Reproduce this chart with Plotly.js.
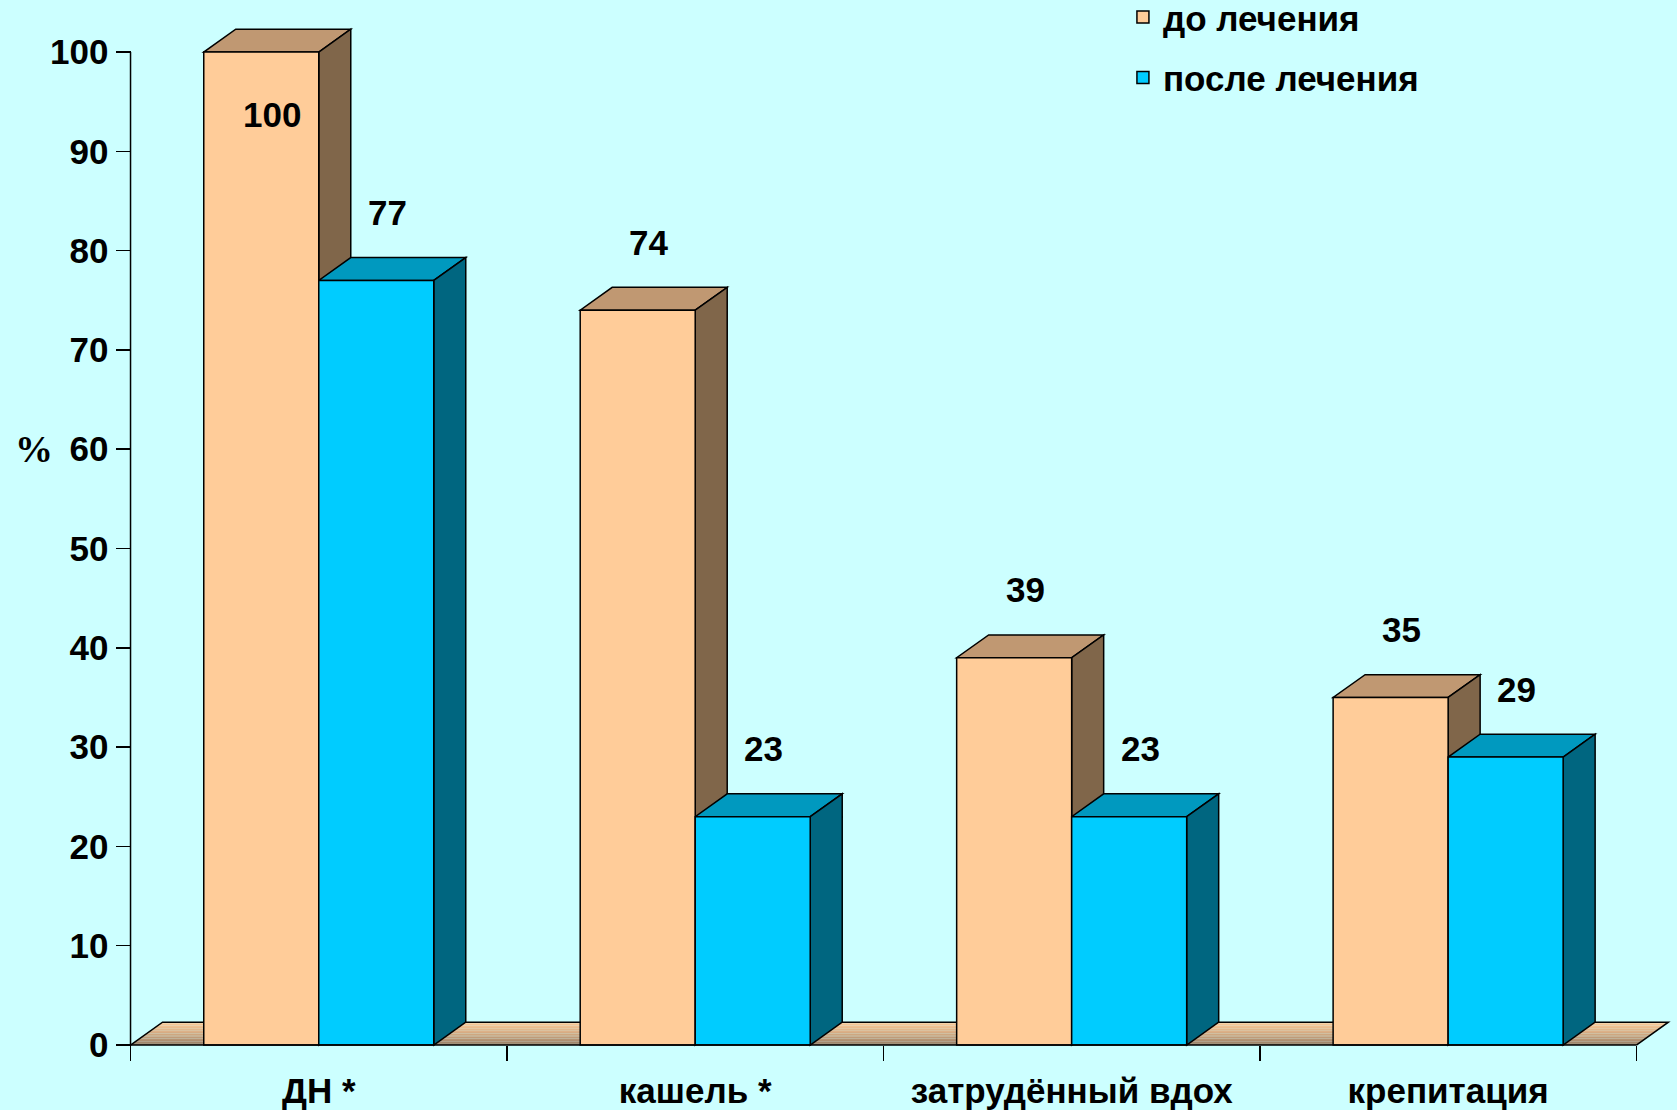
<!DOCTYPE html>
<html>
<head>
<meta charset="utf-8">
<script src="https://cdn.plot.ly/plotly-3.0.1.min.js"></script>
<style>html,body{margin:0;padding:0;background:#CCFFFF;}</style>
</head>
<body>
<div id="chart" style="width:1677px;height:1110px;"></div>
<script>
// ---- data ----
const categories = ['ДН *', 'кашель *', 'затрудённый вдох', 'крепитация'];
const seriesNames = ['до лечения', 'после лечения'];
const beforeValues = [100, 74, 39, 35];
const afterValues = [77, 23, 23, 29];
const yTickValues = [0, 10, 20, 30, 40, 50, 60, 70, 80, 90, 100];
const yAxisLabel = '%';

// ---- style ----
const BG = '#CCFFFF';
const FONT = 'Liberation Sans, Arial, sans-serif';
const FS = 35;
const colors = [
  {front: '#FFCC99', top: '#C09872', side: '#80664A'},
  {front: '#00CCFF', top: '#0099BF', side: '#006680'}
];
const floorTop = [255, 204, 153];
const floorBottom = [138, 114, 94];
const xRange = [-0.52, 3.6];
const yRange = [-0.3, 104.03];
const bargap = 0.389;
const barW = (1 - bargap) / 2;
const dx = 0.085;   // depth in category units
const dy = 2.3;     // depth in value units
const LW = 1.5;

const series = [beforeValues, afterValues];
const nCat = categories.length;
const xMin = -0.5, xMax = nCat - 0.5;

const shapes = [];
// floor with vertical gradient (strips)
const nStrips = 14;
function mix(a, b, t) {
  return 'rgb(' + a.map((v, i) => Math.round(v + (b[i] - v) * t)).join(',') + ')';
}
for (let s = 0; s < nStrips; s++) {
  const t0 = s / nStrips, t1 = (s + 1) / nStrips + 0.002;
  const tc = (s + 0.5) / nStrips;
  const col = mix(floorBottom, floorTop, Math.pow(tc, 0.7));
  shapes.push({
    type: 'path', xref: 'x', yref: 'y', layer: 'below',
    path: `M${xMin + t0 * dx},${t0 * dy} L${xMax + t0 * dx},${t0 * dy} L${xMax + t1 * dx},${Math.min(t1, 1) * dy} L${xMin + t1 * dx},${Math.min(t1, 1) * dy} Z`,
    fillcolor: col, line: {width: 0}
  });
}
shapes.push({
  type: 'path', xref: 'x', yref: 'y', layer: 'below',
  path: `M${xMin},0 L${xMin + dx},${dy} L${xMax + dx},${dy} L${xMax},0`,
  fillcolor: 'rgba(0,0,0,0)', line: {color: 'black', width: LW}
});
// 3D faces of the bars
for (let j = 0; j < nCat; j++) {
  series.forEach((vals, i) => {
    const v = vals[j];
    const xl = j - barW + i * barW;
    const xr = xl + barW;
    shapes.push({
      type: 'path', xref: 'x', yref: 'y', layer: 'below',
      path: `M${xl},${v} L${xr},${v} L${xr + dx},${v + dy} L${xl + dx},${v + dy} Z`,
      fillcolor: colors[i].top, line: {color: 'black', width: LW}
    });
    shapes.push({
      type: 'path', xref: 'x', yref: 'y', layer: 'below',
      path: `M${xr},0 L${xr + dx},${dy} L${xr + dx},${v + dy} L${xr},${v} Z`,
      fillcolor: colors[i].side, line: {color: 'black', width: LW}
    });
  });
}
// axis lines
shapes.push({type: 'line', xref: 'x', yref: 'y', layer: 'above',
  x0: xMin, x1: xMin, y0: 0, y1: yTickValues[yTickValues.length - 1],
  line: {color: 'black', width: LW}});
shapes.push({type: 'line', xref: 'x', yref: 'y', layer: 'above',
  x0: xMin, x1: xMax, y0: 0, y1: 0,
  line: {color: 'black', width: LW}});

// value labels
const annotations = [];
for (let j = 0; j < nCat; j++) {
  series.forEach((vals, i) => {
    const v = vals[j];
    const xc = j - barW / 2 + i * barW;
    annotations.push({
      xref: 'x', yref: 'y', x: xc, y: v, text: String(v), showarrow: false,
      xshift: 11, yshift: v >= 95 ? -62 : 68,
      font: {family: FONT, size: FS, color: 'black', weight: 'bold'}
    });
  });
}
annotations.push({
  xref: 'paper', yref: 'y', x: (34 - 123) / 1551, y: 60, xanchor: 'center',
  text: yAxisLabel, showarrow: false,
  font: {family: 'Liberation Serif, Times New Roman, serif', size: 38, color: 'black', weight: 'bold'}
});

const traces = series.map((vals, i) => ({
  type: 'bar', name: seriesNames[i], x: categories, y: vals,
  legendgroup: 'g' + i,
  marker: {color: colors[i].front, line: {color: 'black', width: LW}},
  hoverinfo: 'skip'
}));

const layout = {
  width: 1677, height: 1110,
  margin: {l: 123, r: 3, t: 12, b: 62, autoexpand: false},
  paper_bgcolor: BG, plot_bgcolor: BG,
  barmode: 'group', bargap: bargap, bargroupgap: 0,
  showlegend: true,
  legend: {
    x: 0.6447, y: 1.0235, xanchor: 'left', yanchor: 'top',
    bgcolor: 'rgba(0,0,0,0)', tracegroupgap: 12,
    font: {family: FONT, size: FS, color: 'black', weight: 'bold'}
  },
  xaxis: {
    type: 'category', range: xRange, autorange: false, automargin: false,
    tickson: 'boundaries', ticks: 'outside', ticklen: 15, tickwidth: LW, tickcolor: 'black',
    ticklabelstandoff: 22,
    showline: false, showgrid: false, zeroline: false,
    anchor: 'free', position: (0 - yRange[0]) / (yRange[1] - yRange[0]),
    tickfont: {family: FONT, size: FS, color: 'black', weight: 'bold'}
  },
  yaxis: {
    range: yRange, autorange: false, automargin: false,
    tickmode: 'array', tickvals: yTickValues,
    ticks: 'outside', ticklen: 15, tickwidth: LW, tickcolor: 'black',
    showline: false, showgrid: false, zeroline: false,
    anchor: 'free', position: (xMin - xRange[0]) / (xRange[1] - xRange[0]),
    tickfont: {family: FONT, size: FS, color: 'black', weight: 'bold'}
  },
  shapes: shapes,
  annotations: annotations
};

Plotly.newPlot('chart', traces, layout, {displayModeBar: false, staticPlot: true});
</script>
</body>
</html>
